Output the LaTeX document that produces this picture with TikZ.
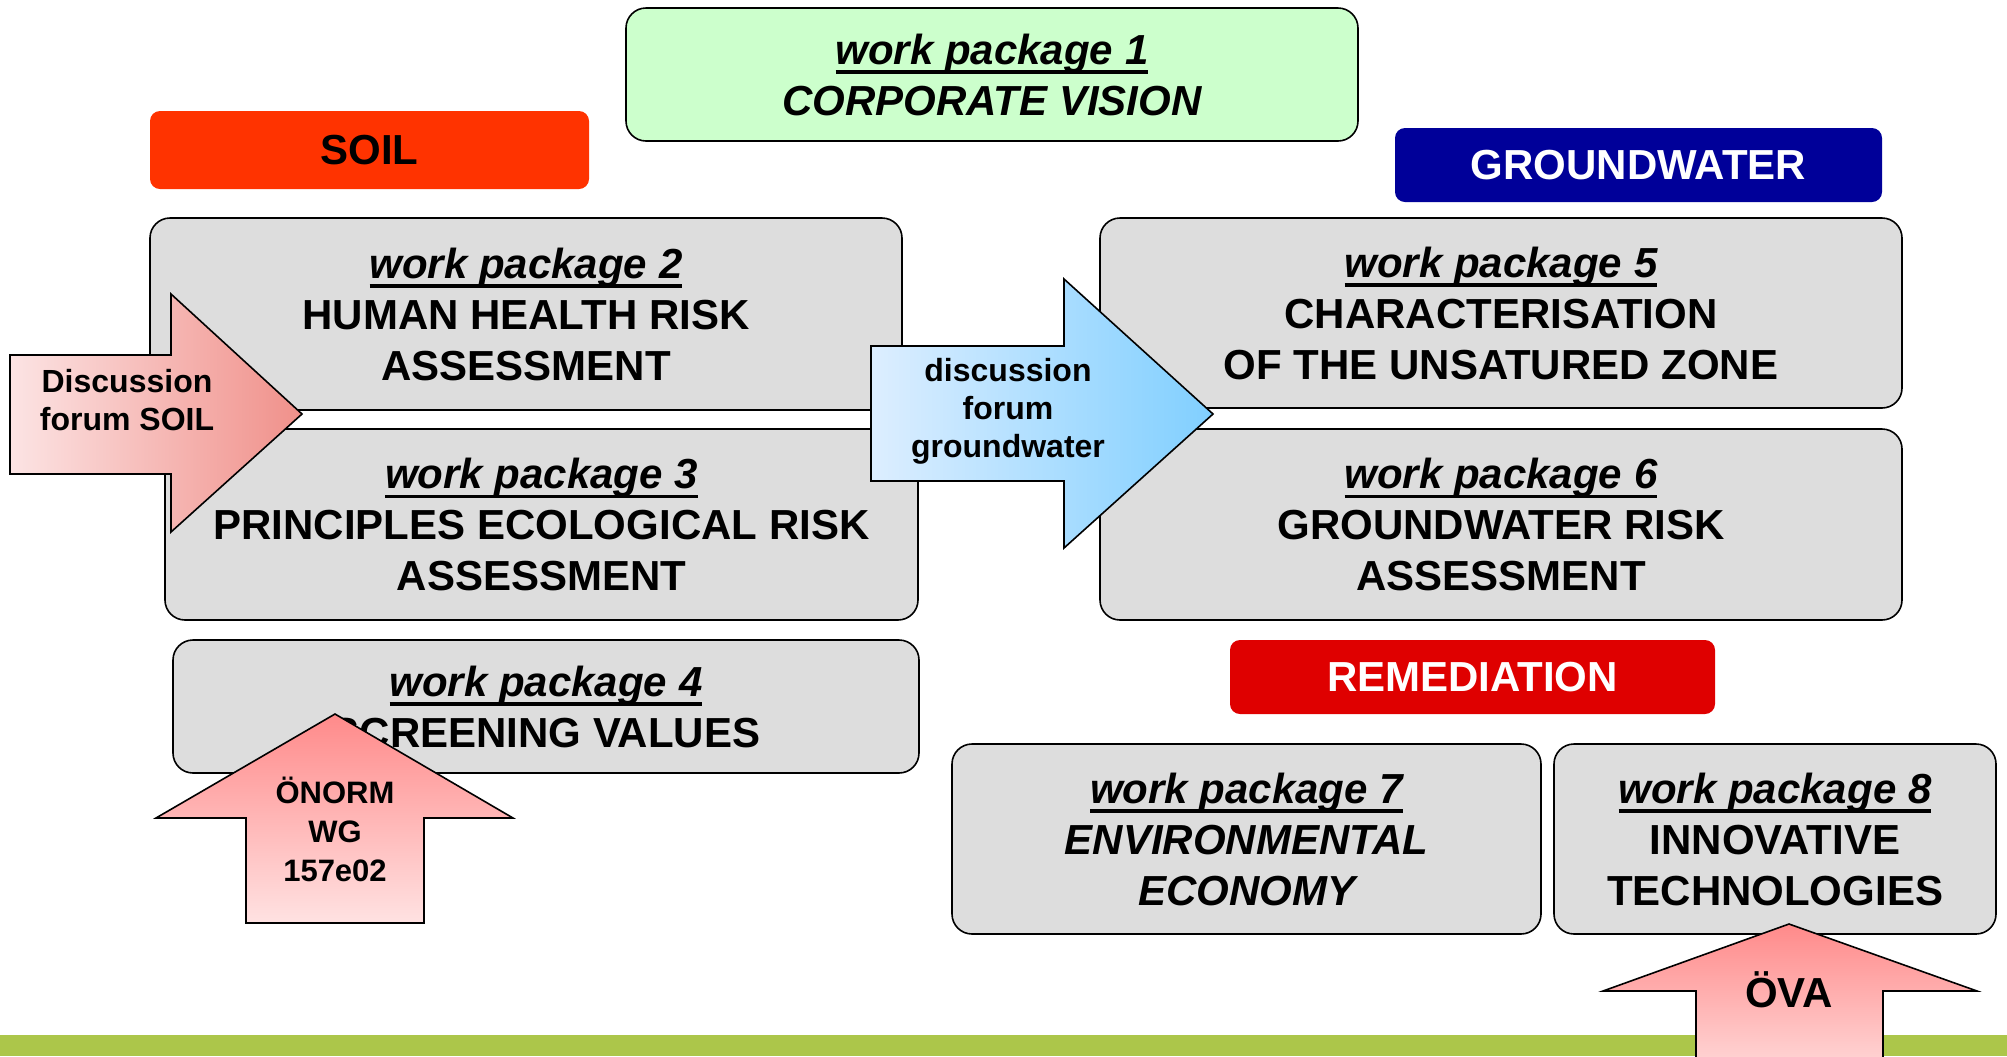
\documentclass[tikz,border=0pt]{standalone}
\usepackage{fontspec}
\setmainfont{Liberation Sans}

\definecolor{wpgray}{HTML}{DDDDDD}
\definecolor{wpgreen}{HTML}{CCFFCC}
\definecolor{soilred}{HTML}{FF3300}
\definecolor{waterblue}{HTML}{000099}
\definecolor{remred}{HTML}{DF0000}
\definecolor{bargreen}{RGB}{172,198,74}
\definecolor{pinkpale}{HTML}{FCE4E4}
\definecolor{pinkdeep}{HTML}{F0908A}
\definecolor{bluepale}{HTML}{DDEEFF}
\definecolor{bluedeep}{HTML}{80CFFF}
\definecolor{uptop}{HTML}{FF8A8A}
\definecolor{upbottom}{HTML}{FFE2E2}

\newsavebox{\titlebox}
\newcommand{\wptitle}[1]{\sbox{\titlebox}{\itshape work package #1}\rlap{\rule[-4.8pt]{\wd\titlebox}{1.6pt}}\usebox{\titlebox}}

\tikzset{
  wpbox/.style={draw=black, line width=0.8pt, fill=wpgray, rounded corners=10pt,
    inner sep=0pt, align=center, font=\fontsize{21}{25.5}\selectfont\bfseries},
  tagbox/.style={rounded corners=5pt, inner sep=0pt, align=center,
    font=\fontsize{21}{25.5}\selectfont\bfseries},
  forumtext/.style={align=center, font=\fontsize{16}{19}\selectfont\bfseries},
  arrowline/.style={draw=black, line width=0.8pt}
}

\begin{document}
\begin{tikzpicture}[x=1pt,y=-1pt]
\useasboundingbox (0,0) rectangle (1003.5,528);
\fill[bargreen] (0,517.5) rectangle (1003.5,528);

\node[wpbox, fill=wpgreen, minimum width=366pt, minimum height=66.5pt] (wp1) at (496,37.25)
  {\wptitle{1}\\\itshape CORPORATE VISION};
\node[tagbox, fill=soilred, minimum width=219.5pt, minimum height=39pt] (soil) at (184.75,75) {SOIL};
\node[tagbox, fill=waterblue, text=white, minimum width=243.5pt, minimum height=37pt] (water) at (819.25,82.5) {GROUNDWATER};
\node[tagbox, fill=remred, text=white, minimum width=242.5pt, minimum height=37pt] (remed) at (736.25,338.5) {REMEDIATION};

\node[wpbox, minimum width=376pt, minimum height=96pt] (wp2) at (263,157)
  {\wptitle{2}\\HUMAN HEALTH RISK\\ASSESSMENT};
\node[wpbox, minimum width=376.5pt, minimum height=95.5pt] (wp3) at (270.75,262.25)
  {\wptitle{3}\\PRINCIPLES ECOLOGICAL RISK\\ASSESSMENT};
\node[wpbox, minimum width=373pt, minimum height=66.5pt] (wp4) at (273,353.25)
  {\wptitle{4}\\SCREENING VALUES};
\node[wpbox, minimum width=401pt, minimum height=95pt] (wp5) at (750.5,156.5)
  {\wptitle{5}\\CHARACTERISATION\\OF THE UNSATURED ZONE};
\node[wpbox, minimum width=401pt, minimum height=95.5pt] (wp6) at (750.5,262.25)
  {\wptitle{6}\\GROUNDWATER RISK\\ASSESSMENT};
\node[wpbox, minimum width=294.5pt, minimum height=95pt] (wp7) at (623.25,419.5)
  {\wptitle{7}\\\itshape ENVIRONMENTAL\\\itshape ECONOMY};
\node[wpbox, minimum width=221pt, minimum height=95pt] (wp8) at (887.5,419.5)
  {\wptitle{8}\\INNOVATIVE\\TECHNOLOGIES};

\shadedraw[arrowline, left color=pinkpale, right color=pinkdeep]
  (5,177.5) -- (85.5,177.5) -- (85.5,147) -- (151,207) -- (85.5,266) -- (85.5,237) -- (5,237) -- cycle;
\node[forumtext] (soilforum) at (63.5,200) {Discussion\\forum SOIL};

\shadedraw[arrowline, left color=bluepale, right color=bluedeep]
  (435.5,173) -- (532,173) -- (532,139.5) -- (606.5,207) -- (532,274) -- (532,240.5) -- (435.5,240.5) -- cycle;
\node[forumtext] (waterforum) at (504,205.75) {discussion\\forum\\groundwater};

\shadedraw[arrowline, top color=uptop, bottom color=upbottom]
  (123,461.5) -- (123,409) -- (78,409) -- (167.5,357) -- (256.5,409) -- (212,409) -- (212,461.5) -- cycle;
\node[align=center, font=\fontsize{15.5}{19.5}\selectfont\bfseries] (onorm) at (167.5,414.5) {ÖNORM\\WG\\157e02};

\shadedraw[arrowline, top color=uptop, bottom color=upbottom]
  (848,545) -- (848,495.5) -- (801.5,495.5) -- (894.5,462) -- (988.5,495.5) -- (941.5,495.5) -- (941.5,545) -- cycle;
\node[font=\fontsize{21}{25.5}\selectfont\bfseries] (ova) at (894.5,495) {ÖVA};
\end{tikzpicture}
\end{document}
